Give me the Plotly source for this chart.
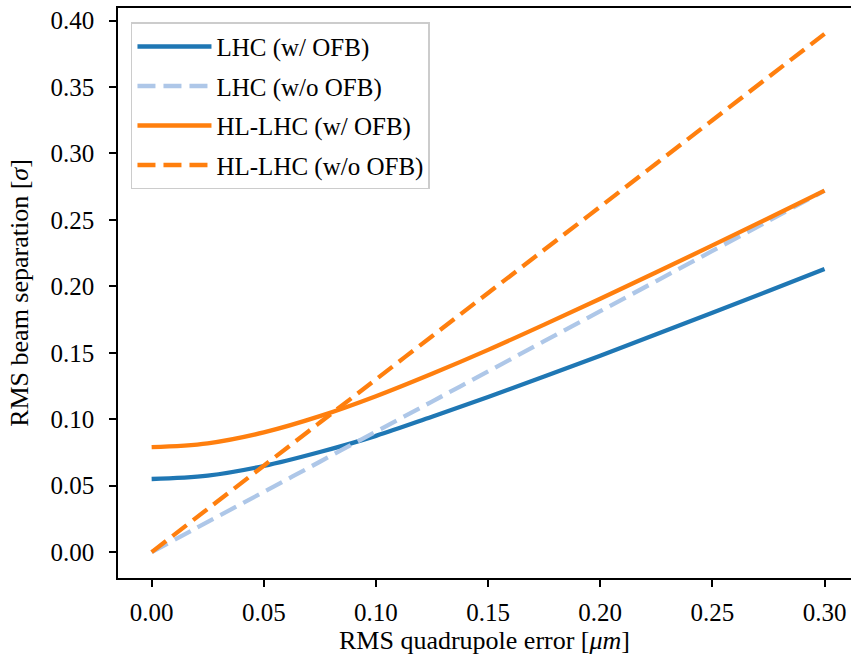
import plotly.graph_objects as go

# quadrupole error [um]
x_err = [0.0, 0.025, 0.05, 0.075, 0.1, 0.125, 0.15, 0.175, 0.2, 0.225, 0.25, 0.275, 0.3]

lhc_ofb = [0.055, 0.0576, 0.0648, 0.0753, 0.0875, 0.1019, 0.1167, 0.1321, 0.1478, 0.1639, 0.1801, 0.1965, 0.213]
lhc_noofb = [0.0, 0.0227, 0.0453, 0.068, 0.0907, 0.1133, 0.136, 0.1587, 0.1813, 0.204, 0.2267, 0.2493, 0.272]
hl_ofb = [0.079, 0.0819, 0.0901, 0.1023, 0.1173, 0.1342, 0.1522, 0.1712, 0.1907, 0.2106, 0.2308, 0.2513, 0.272]
hl_noofb = [0.0, 0.0325, 0.065, 0.0975, 0.13, 0.1625, 0.195, 0.2275, 0.26, 0.2925, 0.325, 0.3575, 0.39]

names = ["LHC (w/ OFB)", "LHC (w/o OFB)", "HL-LHC (w/ OFB)", "HL-LHC (w/o OFB)"]
colors = ["#1f77b4", "#aec7e8", "#ff7f0e", "#ff7f0e"]
dashes = ["solid", "18px,8px", "solid", "18px,8px"]
series = [lhc_ofb, lhc_noofb, hl_ofb, hl_noofb]

xticks = [0.0, 0.05, 0.10, 0.15, 0.20, 0.25, 0.30]
yticks = [0.0, 0.05, 0.10, 0.15, 0.20, 0.25, 0.30, 0.35, 0.40]

FONT = "Liberation Serif, Times New Roman, serif"

fig = go.Figure()
for i, (n, c, d, s) in enumerate(zip(names, colors, dashes, series)):
    fig.add_trace(go.Scatter(x=x_err, y=s, mode="lines", name=n, legendgroup=f"g{i}",
                             line=dict(color=c, width=4.3, dash=d, shape="spline")))

axis_common = dict(
    showgrid=False, zeroline=False, showline=True, linecolor="black", linewidth=1.6,
    ticks="outside", ticklen=7, tickwidth=1.6, tickcolor="black",
    tickfont=dict(family=FONT, size=25, color="black"),
)

fig.update_layout(
    width=851, height=662,
    margin=dict(l=118, r=0, t=8, b=84),
    plot_bgcolor="white", paper_bgcolor="white",
    font=dict(family=FONT, size=25, color="black"),
    xaxis=dict(range=[-0.015, 0.3118], tickvals=xticks,
               ticktext=[f"{v:.2f}" for v in xticks], mirror=True, ticklabelstandoff=4,
               title=dict(text="RMS quadrupole error [<i>μm</i>]", font=dict(family=FONT, size=26), standoff=4),
               **axis_common),
    yaxis=dict(range=[-0.0195, 0.4095], tickvals=yticks,
               ticktext=[f"{v:.2f}" for v in yticks], mirror=False, ticklabelstandoff=10,
               title=dict(text="RMS beam separation [<i>σ</i>]", font=dict(family=FONT, size=26), standoff=14),
               **axis_common),
    legend=dict(x=0.0177, y=0.975, xanchor="left", yanchor="top",
                bgcolor="rgba(255,255,255,0.8)", bordercolor="#cccccc", borderwidth=1.5,
                font=dict(family=FONT, size=25), itemwidth=74, tracegroupgap=4,
                traceorder="grouped"),
    showlegend=True,
)

fig.write_html("out.html")
